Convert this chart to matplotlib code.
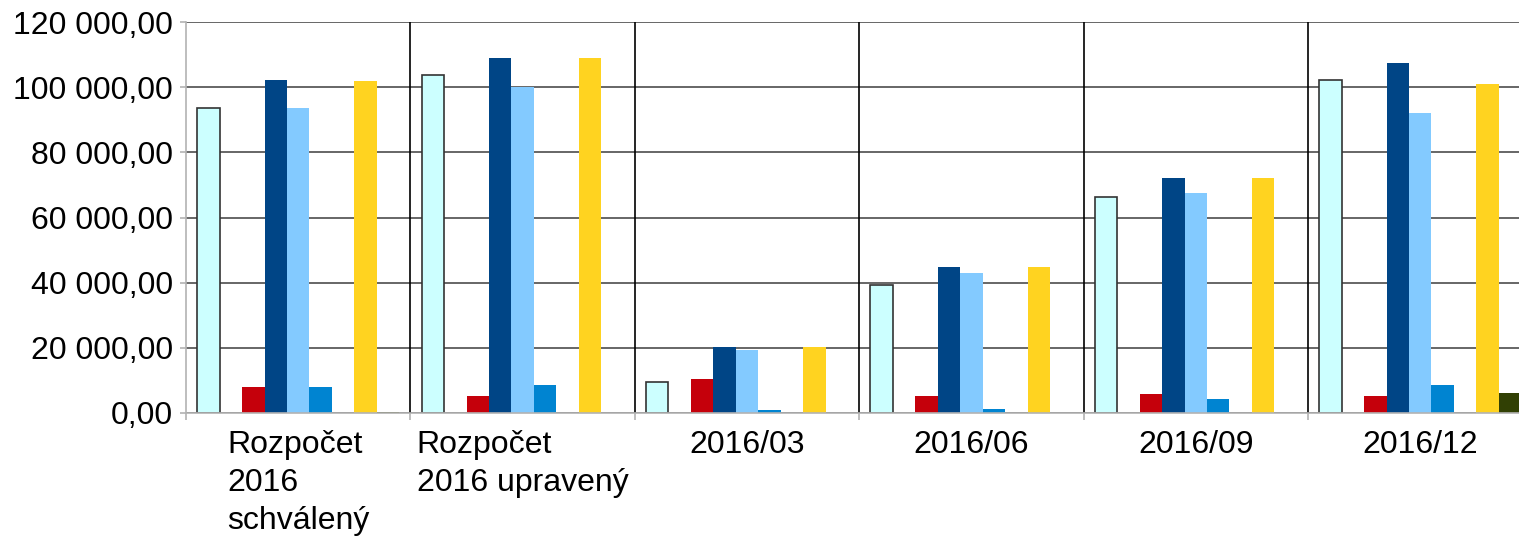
import numpy as np
import matplotlib
matplotlib.use('Agg')
from matplotlib import pyplot as plt
from matplotlib.ticker import FuncFormatter, FixedLocator

categories = ['Rozpočet\n2016\nschválený', 'Rozpočet\n2016 upravený', '2016/03', '2016/06', '2016/09', '2016/12']

# nine series per category, two of them empty
s_cyan = [93600, 103700, 9500, 39300, 66300, 102200]
s_empty1 = [0, 0, 0, 0, 0, 0]
s_red = [8000, 5200, 10400, 5200, 5800, 5200]
s_navy = [102200, 109000, 20300, 44800, 72100, 107400]
s_lightblue = [93600, 100000, 19300, 43000, 67500, 92100]
s_blue = [8000, 8600, 800, 1200, 4300, 8600]
s_empty2 = [0, 0, 0, 0, 0, 0]
s_yellow = [101900, 109000, 20300, 44800, 72100, 101000]
s_olive = [300, 0, 0, 0, 0, 6100]

series = [s_cyan, s_empty1, s_red, s_navy, s_lightblue, s_blue, s_empty2, s_yellow, s_olive]
colors = ['#ccffff', '#ff420e', '#c5000b', '#004586', '#83caff', '#0084d1', '#579d1c', '#ffd320', '#314004']

plt.rcParams.update({'font.family': ['Liberation Sans', 'DejaVu Sans'], 'font.size': 23})

fig = plt.figure(figsize=(15.19, 5.36), dpi=100)
ax = fig.add_axes([186 / 1519, 1 - 413 / 536, (1519 - 186) / 1519, (413 - 22) / 536])

x = np.arange(len(categories))
width = 0.1
for i, (vals, col) in enumerate(zip(series, colors)):
    offset = (i - 4) * width
    if i == 0:
        ax.bar(x + offset, vals, width, color=col, edgecolor='#333333', linewidth=1.2, zorder=3)
    else:
        ax.bar(x + offset, vals, width, color=col, linewidth=0, zorder=3)

ax.set_xlim(-0.5, -0.5 + (1519 - 186) / 224.4)
ax.set_ylim(0, 120000)
ax.set_yticks(np.arange(0, 120001, 20000))
ax.yaxis.set_major_formatter(FuncFormatter(lambda v, p: '{:,.2f}'.format(v).replace(',', ' ').replace('.', ',')))
ax.yaxis.grid(True, color='#4d4d4d', linewidth=1.2, zorder=1)

ax.set_xticks(x)
ax.set_xticklabels(categories, multialignment='left', linespacing=1.33)
ax.xaxis.set_minor_locator(FixedLocator(np.arange(-0.5, 6, 1.0)))
for b in np.arange(0.5, 6, 1.0):
    ax.axvline(b, color='black', linewidth=1.2, zorder=2)

ax.tick_params(axis='x', which='major', length=0, pad=12.5)
ax.tick_params(axis='x', which='minor', length=5, color='#b3b3b3', width=1.2)
ax.tick_params(axis='y', length=4.5, color='#b3b3b3', width=1.2, pad=5)

for side in ['top', 'right']:
    ax.spines[side].set_visible(False)
for side in ['left', 'bottom']:
    ax.spines[side].set_color('#b3b3b3')
    ax.spines[side].set_linewidth(1.2)
    ax.spines[side].set_zorder(4)

fig.savefig('out.png', dpi=100)
